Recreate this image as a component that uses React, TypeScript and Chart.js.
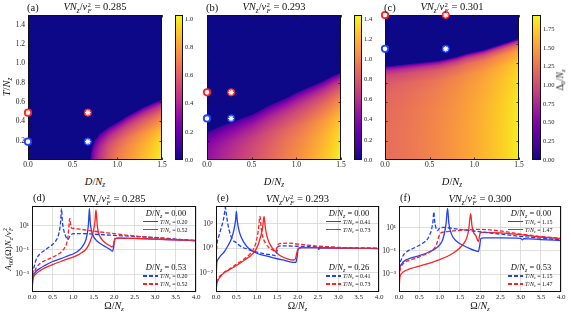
import React, { useEffect, useRef } from "react";
import { Chart, registerables } from "chart.js";

Chart.register(...registerables);

const SERIF = "'Liberation Serif', 'DejaVu Serif', serif";
const BLUE = "#2040ff";
const RED = "#ff2020";

// ---------------- phase-diagram data ----------------
// ordered-phase boundary T_c(D) and zero-temperature gap Delta_0(D), read from the maps
const tcDA = [0, 0.69, 0.72, 0.75, 0.8, 0.9, 1.0, 1.1, 1.2, 1.3, 1.4, 1.5];
const tcA = [0, 0, 0.14, 0.21, 0.27, 0.34, 0.39, 0.45, 0.5, 0.55, 0.59, 0.63];
const gapA = [0, 0, 0.25, 0.35, 0.45, 0.6, 0.7, 0.77, 0.83, 0.89, 0.95, 1.02];

const tcDB = [0, 0.1, 0.2, 0.3, 0.4, 0.5, 0.6, 0.7, 0.8, 0.9, 1.0, 1.1, 1.2, 1.3, 1.4, 1.5];
const tcB = [0.29, 0.33, 0.37, 0.4, 0.44, 0.47, 0.52, 0.57, 0.61, 0.65, 0.7, 0.74, 0.78, 0.82, 0.87, 0.91];
const gapB = [0.45, 0.52, 0.58, 0.64, 0.7, 0.76, 0.82, 0.88, 0.94, 1.0, 1.05, 1.11, 1.18, 1.25, 1.33, 1.43];

const tcDC = [0, 0.1, 0.2, 0.3, 0.4, 0.5, 0.6, 0.7, 0.8, 0.9, 1.0, 1.1, 1.2, 1.3, 1.4, 1.5];
const tcC = [0.97, 0.98, 0.99, 1.0, 1.01, 1.02, 1.03, 1.05, 1.07, 1.1, 1.12, 1.14, 1.17, 1.2, 1.23, 1.26];
const gapC = [1.22, 1.24, 1.26, 1.29, 1.32, 1.35, 1.39, 1.43, 1.47, 1.52, 1.57, 1.62, 1.68, 1.74, 1.81, 1.9];

const shapeT = [0, 0.3, 0.5, 0.7, 0.8, 0.9, 0.95, 0.98, 1.0];
const shapeAB = [1, 0.95, 0.87, 0.71, 0.6, 0.44, 0.31, 0.2, 0];
const shapeC = [1, 1, 0.99, 0.96, 0.92, 0.8, 0.62, 0.4, 0];

const cbarMax = [1.03, 1.44, 1.94];
const cbarTicksA = [0, 0.2, 0.4, 0.6, 0.8, 1.0];
const cbarTicksB = [0, 0.2, 0.4, 0.6, 0.8, 1.0, 1.2, 1.4];
const cbarTicksC = [0, 0.25, 0.5, 0.75, 1.0, 1.25, 1.5, 1.75];
const heatXTicks = [0, 0.5, 1.0, 1.5];
const heatYTicks = [0.2, 0.4, 0.6, 0.8, 1.0, 1.2, 1.4];

// markers on the phase diagrams
const markerCircleD = [0, 0, 0];
const markerStarD = [0.67, 0.27, 0.68];
const markerRedT = [0.49, 0.7, 1.5];
const markerBlueT = [0.19, 0.43, 1.15];

const topCoupling = ["0.285", "0.293", "0.301"];
const bottomCoupling = ["0.285", "0.293", "0.300"];

// ---------------- spectral function data (x: Omega/Nz, value: log10 A) ----------------
const lineXTicks = [0, 0.5, 1, 1.5, 2, 2.5, 3, 3.5, 4];
const logTicksD = [1e-3, 1e-1, 1e1];
const logTicksE = [1e-2, 1, 1e2];
const logTicksF = [1e-3, 1e-1, 1e1];
const yExpRangeD = [-4.46, 2.62];
const yExpRangeE = [-3.56, 3.45];
const yExpRangeF = [-4.52, 2.86];

const dSolidBlueW = [0.002, 0.02, 0.05, 0.1, 0.2, 0.3, 0.5, 0.7, 0.9, 1.0, 1.1, 1.2, 1.27, 1.32, 1.36, 1.38, 1.4, 1.42, 1.45, 1.5, 1.6, 1.7, 1.8, 1.9, 1.96, 1.99, 2.02, 2.1, 2.5, 3.0, 3.5, 4.0];
const dSolidBlueE = [-4.4, -3.3, -3.0, -2.75, -2.5, -2.3, -1.95, -1.72, -1.45, -1.33, -1.15, -0.85, -0.5, -0.1, 0.6, 1.3, 2.4, 1.3, 0.6, 0.1, -0.3, -0.55, -0.75, -0.95, -1.1, -0.8, -0.1, -0.03, -0.05, -0.1, -0.17, -0.23];
const dSolidRedW = [0.002, 0.02, 0.05, 0.1, 0.2, 0.3, 0.5, 0.7, 0.9, 1.1, 1.2, 1.3, 1.38, 1.44, 1.5, 1.535, 1.56, 1.585, 1.61, 1.66, 1.72, 1.8, 1.9, 1.96, 1.99, 2.02, 2.1, 2.5, 3.0, 3.5, 4.0];
const dSolidRedE = [-4.4, -3.4, -3.15, -2.95, -2.7, -2.5, -2.2, -1.95, -1.7, -1.45, -1.25, -1.0, -0.6, -0.1, 0.6, 1.3, 2.3, 1.3, 0.6, 0.1, -0.2, -0.45, -0.65, -0.75, -0.55, -0.1, -0.03, -0.05, -0.1, -0.17, -0.23];
const dDashBlueW = [0.002, 0.02, 0.05, 0.1, 0.2, 0.3, 0.4, 0.5, 0.58, 0.64, 0.68, 0.7, 0.72, 0.74, 0.77, 0.82, 0.87, 0.92, 0.97, 1.0, 1.2, 1.5, 2.0, 2.5, 3.0, 3.5, 4.0];
const dDashBlueE = [-4.0, -2.9, -2.4, -1.8, -1.3, -1.05, -0.8, -0.55, -0.25, 0.15, 0.8, 1.4, 2.4, 1.4, 0.7, 0.15, -0.15, 0.1, 0.3, 0.35, 0.35, 0.3, 0.2, 0.12, 0.03, -0.1, -0.23];
const dDashRedW = [0.002, 0.02, 0.05, 0.1, 0.2, 0.3, 0.5, 0.7, 0.8, 0.85, 0.88, 0.9, 0.92, 0.94, 0.97, 1.0, 1.2, 1.5, 2.0, 2.5, 3.0, 3.5, 4.0];
const dDashRedE = [-4.2, -3.2, -2.9, -2.5, -2.1, -1.9, -1.6, -1.2, -0.8, -0.4, 0.2, 0.9, 1.6, 1.1, 0.8, 0.78, 0.7, 0.55, 0.35, 0.15, 0.0, -0.12, -0.23];

const eSolidBlueW = [0.002, 0.02, 0.05, 0.1, 0.2, 0.3, 0.38, 0.44, 0.48, 0.5, 0.52, 0.56, 0.62, 0.7, 0.8, 1.0, 1.2, 1.5, 1.7, 1.9, 1.96, 1.99, 2.02, 2.1, 2.5, 2.52, 2.55, 3.0, 3.5, 4.0];
const eSolidBlueE = [-2.5, -1.2, -0.9, -0.65, -0.3, 0.25, 0.8, 1.5, 2.3, 3.0, 2.3, 1.5, 0.9, 0.4, 0.0, -0.4, -0.6, -0.85, -1.0, -1.15, -1.15, -0.7, -0.05, 0.05, 0.05, -0.1, 0.03, 0.02, 0.0, -0.02];
const eSolidRedW = [0.002, 0.02, 0.05, 0.1, 0.2, 0.3, 0.5, 0.7, 0.85, 0.95, 1.03, 1.09, 1.14, 1.18, 1.21, 1.25, 1.3, 1.4, 1.5, 1.6, 1.75, 1.9, 1.95, 1.98, 2.02, 2.1, 2.5, 3.0, 3.5, 4.0];
const eSolidRedE = [-3.5, -2.9, -2.6, -2.35, -2.0, -1.8, -1.4, -0.95, -0.6, -0.25, 0.25, 0.9, 1.6, 2.6, 1.7, 1.0, 0.5, -0.05, -0.4, -0.65, -0.85, -0.95, -0.85, -0.4, 0.0, 0.05, 0.05, 0.02, 0.0, -0.02];
const eDashBlueW = [0.002, 0.03, 0.08, 0.13, 0.18, 0.21, 0.23, 0.25, 0.28, 0.32, 0.4, 0.5, 0.6, 0.8, 1.0, 1.2, 1.4, 1.46, 1.49, 1.52, 1.6, 2.0, 2.5, 3.0, 3.5, 4.0];
const eDashBlueE = [-0.6, 0.5, 1.1, 1.7, 2.3, 2.9, 3.35, 2.9, 2.2, 1.5, 0.75, 0.45, 0.18, -0.1, -0.3, -0.45, -0.55, -0.6, -0.3, 0.15, 0.2, 0.17, 0.12, 0.06, 0.02, 0.0];
const eDashRedW = [0.002, 0.02, 0.05, 0.1, 0.2, 0.3, 0.5, 0.7, 0.85, 0.93, 0.99, 1.04, 1.08, 1.11, 1.15, 1.22, 1.3, 1.4, 1.46, 1.49, 1.52, 1.6, 1.8, 2.0, 2.5, 3.0, 3.5, 4.0];
const eDashRedE = [-3.3, -2.8, -2.5, -2.25, -1.95, -1.75, -1.3, -0.85, -0.4, 0.0, 0.6, 1.5, 2.6, 1.6, 0.9, 0.4, 0.05, -0.15, -0.25, 0.0, 0.3, 0.4, 0.42, 0.35, 0.18, 0.08, 0.03, 0.02];

const fSolidBlueW = [0.002, 0.01, 0.05, 0.1, 0.3, 0.5, 0.7, 0.9, 1.0, 1.07, 1.12, 1.16, 1.2, 1.23, 1.27, 1.33, 1.45, 1.6, 1.75, 1.9, 1.96, 1.99, 2.02, 2.1, 2.5, 3.0, 3.05, 3.08, 3.5, 4.0];
const fSolidBlueE = [-4.3, -2.8, -2.2, -1.95, -1.6, -1.4, -1.15, -0.8, -0.5, -0.1, 0.5, 1.3, 2.65, 1.4, 0.7, 0.2, -0.25, -0.55, -0.8, -1.0, -1.05, -0.6, 0.05, 0.12, 0.12, 0.08, -0.05, 0.06, -0.02, -0.1];
const fSolidRedW = [0.002, 0.02, 0.05, 0.1, 0.3, 0.5, 0.8, 1.0, 1.2, 1.35, 1.5, 1.6, 1.67, 1.72, 1.77, 1.8, 1.84, 1.9, 1.96, 2.0, 2.05, 2.5, 3.0, 3.5, 4.0];
const fSolidRedE = [-4.4, -3.3, -3.0, -2.8, -2.5, -2.3, -2.0, -1.75, -1.45, -1.15, -0.75, -0.35, 0.1, 0.8, 2.2, 1.2, 0.6, 0.3, -0.2, 0.5, 0.6, 0.55, 0.4, 0.2, 0.05];
const fDashBlueW = [0.002, 0.01, 0.05, 0.1, 0.2, 0.4, 0.6, 0.7, 0.76, 0.8, 0.84, 0.86, 0.88, 0.91, 0.95, 1.0, 1.1, 1.3, 1.5, 2.0, 2.5, 3.0, 3.5, 4.0];
const fDashBlueE = [-3.5, -2.4, -1.8, -1.4, -1.05, -0.7, -0.3, 0.0, 0.4, 0.8, 1.6, 2.35, 1.6, 1.0, 0.75, 0.95, 1.02, 0.95, 0.85, 0.65, 0.45, 0.25, 0.1, -0.05];
const fDashRedW = [0.002, 0.02, 0.05, 0.1, 0.3, 0.5, 0.7, 0.85, 0.93, 0.98, 1.02, 1.1, 1.3, 1.6, 2.0, 2.5, 3.0, 3.5, 4.0];
const fDashRedE = [-3.8, -2.8, -2.4, -2.1, -1.75, -1.5, -1.2, -0.85, -0.4, 0.2, 0.5, 0.62, 0.7, 0.8, 0.85, 0.72, 0.45, 0.25, 0.1];

const legendDD = ["0.00", "0.53"];
const legendTD = ["0.20", "0.52"];
const legendDE = ["0.00", "0.26"];
const legendTE = ["0.41", "0.73"];
const legendDF = ["0.00", "0.53"];
const legendTF = ["1.15", "1.47"];

// ---------------- colormap ----------------
const PLASMA = ["#0d0887", "#41049d", "#6a00a8", "#8f0da4", "#b12a90", "#cc4778", "#e16462", "#f2844b", "#fca636", "#fcce25", "#f0f921"];
const PLASMA_RGB = PLASMA.map((h) => [parseInt(h.slice(1, 3), 16), parseInt(h.slice(3, 5), 16), parseInt(h.slice(5, 7), 16)]);
function plasma(t: number) {
  const c = Math.max(0, Math.min(1, t)) * 10;
  const i = Math.min(9, Math.floor(c));
  const f = c - i;
  const a = PLASMA_RGB[i], b = PLASMA_RGB[i + 1];
  return [a[0] + (b[0] - a[0]) * f, a[1] + (b[1] - a[1]) * f, a[2] + (b[2] - a[2]) * f];
}
function interp(xs: number[], ys: number[], x: number) {
  const n = xs.length;
  if (x <= xs[0]) return ys[0];
  if (x >= xs[n - 1]) return ys[n - 1];
  let i = 0;
  while (x > xs[i + 1]) i++;
  const f = (x - xs[i]) / (xs[i + 1] - xs[i]);
  return ys[i] + (ys[i + 1] - ys[i]) * f;
}
type Phase = { tcD: number[]; tc: number[]; gap: number[]; shape: number[] };
function gapAt(p: Phase, d: number, t: number) {
  const tc = interp(p.tcD, p.tc, d);
  if (tc <= 0 || t >= tc) return 0;
  return interp(p.tcD, p.gap, d) * interp(shapeT, p.shape, t / tc);
}

function strokeFrame(ctx: CanvasRenderingContext2D, ca: any, color: string) {
  ctx.save();
  ctx.strokeStyle = color;
  ctx.lineWidth = 1;
  ctx.strokeRect(Math.round(ca.left) + 0.5, Math.round(ca.top) + 0.5, Math.round(ca.right - ca.left) - 1, Math.round(ca.bottom - ca.top) - 1);
  ctx.restore();
}

function innerTicks(chart: any, len: number) {
  const ctx = chart.ctx;
  const ca = chart.chartArea;
  ctx.save();
  ctx.strokeStyle = "#111";
  ctx.lineWidth = 0.8;
  ctx.beginPath();
  const xs = chart.scales.x, ys = chart.scales.y;
  if (xs && xs.options.display !== false) {
    xs.ticks.forEach((tk: any) => {
      const px = Math.round(xs.getPixelForValue(tk.value)) + 0.5;
      ctx.moveTo(px, ca.bottom); ctx.lineTo(px, ca.bottom - len);
      ctx.moveTo(px, ca.top); ctx.lineTo(px, ca.top + len);
    });
  }
  ys.ticks.forEach((tk: any) => {
    const py = Math.round(ys.getPixelForValue(tk.value)) + 0.5;
    ctx.moveTo(ca.left, py); ctx.lineTo(ca.left + len, py);
    ctx.moveTo(ca.right, py); ctx.lineTo(ca.right - len, py);
  });
  ctx.stroke();
  ctx.restore();
}

function heatPlugin(p: Phase, vmax: number) {
  return {
    id: "heatmap",
    beforeDatasetsDraw(chart: any) {
      const ca = chart.chartArea;
      const xs = chart.scales.x, ys = chart.scales.y;
      const w = Math.round(ca.right - ca.left), h = Math.round(ca.bottom - ca.top);
      const off = document.createElement("canvas");
      off.width = w;
      off.height = h;
      const octx = off.getContext("2d")!;
      const img = octx.createImageData(w, h);
      for (let j = 0; j < h; j++) {
        const t = ys.getValueForPixel(ca.top + j + 0.5);
        for (let i = 0; i < w; i++) {
          const d = xs.getValueForPixel(ca.left + i + 0.5);
          const c = plasma(gapAt(p, d, t) / vmax);
          const k = (j * w + i) * 4;
          img.data[k] = c[0];
          img.data[k + 1] = c[1];
          img.data[k + 2] = c[2];
          img.data[k + 3] = 255;
        }
      }
      octx.putImageData(img, 0, 0);
      chart.ctx.drawImage(off, ca.left, ca.top);
      innerTicks(chart, 2.5);
      strokeFrame(chart.ctx, ca, "#111");
    },
  };
}

const cbarPlugin = {
  id: "cbar",
  beforeDatasetsDraw(chart: any) {
    const ca = chart.chartArea;
    const ctx = chart.ctx;
    const g = ctx.createLinearGradient(0, ca.bottom, 0, ca.top);
    PLASMA.forEach((c, i) => g.addColorStop(i / (PLASMA.length - 1), c));
    ctx.save();
    ctx.fillStyle = g;
    ctx.fillRect(ca.left, ca.top, ca.right - ca.left, ca.bottom - ca.top);
    ctx.restore();
    strokeFrame(ctx, ca, "#111");
  },
};

const lineFramePlugin = {
  id: "lineFrame",
  afterDatasetsDraw(chart: any) {
    strokeFrame(chart.ctx, chart.chartArea, "#111");
  },
};

function axisFix(size: number, horizontal: boolean) {
  return (scale: any) => {
    if (horizontal) scale.height = size;
    else scale.width = size;
    scale.paddingLeft = 0;
    scale.paddingRight = 0;
    scale.paddingTop = 0;
    scale.paddingBottom = 0;
  };
}

type Frame = { left: number; top: number; width: number; height: number; ml: number; mt: number; mr: number; mb: number };

function ChartCanvas({ frame, build }: { frame: Frame; build: (f: Frame) => any }) {
  const ref = useRef<HTMLCanvasElement>(null);
  useEffect(() => {
    const chart = new Chart(ref.current!, build(frame));
    return () => chart.destroy();
  }, []);
  const w = frame.width + frame.ml + frame.mr;
  const h = frame.height + frame.mt + frame.mb;
  return (
    <canvas
      ref={ref}
      width={w}
      height={h}
      style={{ position: "absolute", left: frame.left - frame.ml, top: frame.top - frame.mt, width: w, height: h }}
    />
  );
}

const tickFont = (size: number) => ({ family: SERIF, size });

function heatConfig(f: Frame, phase: Phase, idx: number, showY: boolean) {
  const pt = (d: number, t: number) => [{ x: d, y: t }];
  return {
    type: "scatter",
    data: {
      datasets: [
        { data: [...pt(markerStarD[idx], markerRedT[idx]), ...pt(markerStarD[idx], markerBlueT[idx])], pointStyle: "star", pointRadius: 2.8, borderColor: "#fff", backgroundColor: "#fff", pointBorderWidth: 1.1, clip: false },
        { data: pt(markerStarD[idx], markerRedT[idx]), pointStyle: "circle", pointRadius: 3.6, backgroundColor: RED, borderColor: RED, pointBorderWidth: 1, clip: false },
        { data: pt(markerStarD[idx], markerBlueT[idx]), pointStyle: "circle", pointRadius: 3.6, backgroundColor: BLUE, borderColor: BLUE, pointBorderWidth: 1, clip: false },
        { data: pt(markerCircleD[idx], markerRedT[idx]), pointStyle: "circle", pointRadius: 3.2, backgroundColor: "#fff", borderColor: RED, pointBorderWidth: 1.8, clip: false },
        { data: pt(markerCircleD[idx], markerBlueT[idx]), pointStyle: "circle", pointRadius: 3.2, backgroundColor: "#fff", borderColor: BLUE, pointBorderWidth: 1.8, clip: false },
      ],
    },
    options: {
      responsive: false,
      animation: false,
      events: [],
      layout: { padding: { left: 0, top: f.mt, right: f.mr, bottom: 0 } },
      plugins: { legend: { display: false }, tooltip: { enabled: false } },
      scales: {
        x: {
          type: "linear", min: 0, max: 1.5,
          afterBuildTicks: (s: any) => { s.ticks = heatXTicks.map((v) => ({ value: v })); },
          ticks: { callback: (v: any) => Number(v).toFixed(1), font: tickFont(7.5), color: "#222", padding: 1, maxRotation: 0 },
          grid: { display: false, drawTicks: false },
          border: { display: false },
          afterFit: axisFix(f.mb, true),
        },
        y: {
          type: "linear", min: 0, max: 1.5,
          afterBuildTicks: (s: any) => { s.ticks = heatYTicks.map((v) => ({ value: v })); },
          ticks: { display: showY, callback: (v: any) => Number(v).toFixed(1), font: tickFont(7.5), color: "#222", padding: 3 },
          grid: { display: false, drawTicks: false },
          border: { display: false },
          afterFit: axisFix(f.ml, false),
        },
      },
    },
    plugins: [heatPlugin(phase, cbarMax[idx])],
  };
}

function cbarConfig(f: Frame, idx: number, ticks: number[], digits: number) {
  return {
    type: "scatter",
    data: { datasets: [] },
    options: {
      responsive: false,
      animation: false,
      events: [],
      layout: { padding: { left: 0, top: f.mt, right: 0, bottom: f.mb } },
      plugins: { legend: { display: false }, tooltip: { enabled: false } },
      scales: {
        x: { type: "linear", display: false, min: 0, max: 1 },
        y: {
          type: "linear", position: "right", min: 0, max: cbarMax[idx],
          afterBuildTicks: (s: any) => { s.ticks = ticks.map((v) => ({ value: v })); },
          ticks: { callback: (v: any) => Number(v).toFixed(digits), font: tickFont(6.5), color: "#222", padding: 2 },
          grid: { display: false, drawTicks: false },
          border: { display: false },
          afterFit: axisFix(f.mr, false),
        },
      },
    },
    plugins: [cbarPlugin],
  };
}

const SUP: Record<string, string> = { "-": "\u207B", "0": "\u2070", "1": "\u00B9", "2": "\u00B2", "3": "\u00B3", "4": "\u2074" };
const logLabel = (v: number) =>
  "10" + String(Math.round(Math.log10(v))).split("").map((c) => SUP[c]).join("");

type Series = { w: number[]; e: number[]; color: string; dash: boolean };

function lineConfig(f: Frame, series: Series[], yRange: number[], logTicks: number[]) {
  return {
    type: "line",
    data: {
      datasets: series.map((s) => ({
        data: s.w.map((w, i) => ({ x: w, y: Math.pow(10, s.e[i]) })),
        borderColor: s.color,
        borderDash: s.dash ? [4, 2] : [],
        borderWidth: 1.3,
        pointRadius: 0,
        fill: false,
        cubicInterpolationMode: "monotone",
      })),
    },
    options: {
      responsive: false,
      animation: false,
      events: [],
      layout: { padding: { left: 0, top: f.mt, right: f.mr, bottom: 0 } },
      plugins: { legend: { display: false }, tooltip: { enabled: false } },
      scales: {
        x: {
          type: "linear", min: 0, max: 4,
          afterBuildTicks: (s: any) => { s.ticks = lineXTicks.map((v) => ({ value: v })); },
          ticks: { callback: (v: any) => Number(v).toFixed(1), font: tickFont(7), color: "#222", padding: 1, maxRotation: 0 },
          grid: { color: "#d6d6d6", lineWidth: 0.8, drawTicks: false },
          border: { display: false },
          afterFit: axisFix(f.mb, true),
        },
        y: {
          type: "logarithmic", min: Math.pow(10, yRange[0]), max: Math.pow(10, yRange[1]),
          afterBuildTicks: (s: any) => { s.ticks = logTicks.map((v) => ({ value: v })); },
          ticks: { callback: (v: any) => logLabel(Number(v)), font: tickFont(7.5), color: "#222", padding: 3 },
          grid: { color: "#d6d6d6", lineWidth: 0.8, drawTicks: false },
          border: { display: false },
          afterFit: axisFix(f.ml, false),
        },
      },
    },
    plugins: [lineFramePlugin],
  };
}

// ---------------- text helpers ----------------
const Sub = ({ children, it }: { children: any; it?: boolean }) => (
  <span style={{ fontSize: "0.7em", verticalAlign: "-0.35em", fontStyle: it ? "italic" : "normal", lineHeight: 0 }}>{children}</span>
);
const SupSub = ({ sup, sub }: { sup: string; sub: string }) => (
  <span style={{ display: "inline-flex", flexDirection: "column", fontSize: "0.65em", lineHeight: 0.95, verticalAlign: "0.55em", marginLeft: "0.05em" }}>
    <span>{sup}</span>
    <span style={{ fontStyle: "italic" }}>{sub}</span>
  </span>
);
const Coupling = ({ v }: { v: string }) => (
  <>
    <i>VN</i><Sub it>z</Sub>/<i>v</i><SupSub sup="2" sub="F" /> = {v}
  </>
);
const OverNz = ({ sym, it = true }: { sym: string; it?: boolean }) => (
  <>
    {it ? <i>{sym}</i> : sym}/<i>N</i><Sub it>z</Sub>
  </>
);

function Label({ x, y, size, rot, left, children }: any) {
  const transform = rot ? "translate(-50%,-50%) rotate(-90deg)" : left ? "translate(0,-50%)" : "translate(-50%,-50%)";
  return (
    <div style={{ position: "absolute", left: x, top: y, transform, fontSize: size, fontFamily: SERIF, lineHeight: 1, whiteSpace: "nowrap", color: "#111" }}>
      {children}
    </div>
  );
}

function Sample({ x, y, color, dashed }: { x: number; y: number; color: string; dashed: boolean }) {
  return (
    <div
      style={{
        position: "absolute", left: x, top: y - 0.65, width: 15, height: 1.3,
        background: dashed ? `repeating-linear-gradient(90deg, ${color} 0px, ${color} 4px, transparent 4px, transparent 6px)` : color,
      }}
    />
  );
}

function LineLegend({ R, T, dVals, tVals }: { R: number; T: number; dVals: string[]; tVals: string[] }) {
  const entry = (y: number, color: string, dashed: boolean, tv: string) => (
    <>
      <Sample x={R - 53} y={y} color={color} dashed={dashed} />
      <Label x={R - 36} y={y} size={6} left>
        <OverNz sym="T" /> = {tv}
      </Label>
    </>
  );
  return (
    <>
      <Label x={R - 30} y={T + 7} size={8.5}><OverNz sym="D" /> = {dVals[0]}</Label>
      {entry(T + 15.5, BLUE, false, tVals[0])}
      {entry(T + 23.5, RED, false, tVals[1])}
      <Label x={R - 30} y={T + 60.5} size={8.5}><OverNz sym="D" /> = {dVals[1]}</Label>
      {entry(T + 70, BLUE, true, tVals[0])}
      {entry(T + 78, RED, true, tVals[1])}
    </>
  );
}

// ---------------- layout frames ----------------
const HT = 15, HH = 145;
const heatFrames: Frame[] = [
  { left: 28, top: HT, width: 134, height: HH, ml: 28, mt: 15, mr: 8, mb: 14 },
  { left: 207, top: HT, width: 134, height: HH, ml: 10, mt: 15, mr: 8, mb: 14 },
  { left: 385, top: HT, width: 134, height: HH, ml: 10, mt: 15, mr: 8, mb: 14 },
];
const cbarFrames: Frame[] = [
  { left: 175, top: HT, width: 8, height: HH, ml: 0, mt: 15, mr: 20, mb: 14 },
  { left: 354, top: HT, width: 8, height: HH, ml: 0, mt: 15, mr: 20, mb: 14 },
  { left: 532, top: HT, width: 9, height: HH, ml: 0, mt: 15, mr: 22, mb: 14 },
];
const LT = 206, LH = 86;
const lineFrames: Frame[] = [
  { left: 32, top: LT, width: 164, height: LH, ml: 32, mt: 11, mr: 6, mb: 14 },
  { left: 216, top: LT, width: 163, height: LH, ml: 18, mt: 11, mr: 6, mb: 14 },
  { left: 399, top: LT, width: 162, height: LH, ml: 18, mt: 11, mr: 6, mb: 14 },
];

const phases: Phase[] = [
  { tcD: tcDA, tc: tcA, gap: gapA, shape: shapeAB },
  { tcD: tcDB, tc: tcB, gap: gapB, shape: shapeAB },
  { tcD: tcDC, tc: tcC, gap: gapC, shape: shapeC },
];

const seriesD: Series[] = [
  { w: dDashRedW, e: dDashRedE, color: RED, dash: true },
  { w: dDashBlueW, e: dDashBlueE, color: BLUE, dash: true },
  { w: dSolidRedW, e: dSolidRedE, color: RED, dash: false },
  { w: dSolidBlueW, e: dSolidBlueE, color: BLUE, dash: false },
];
const seriesE: Series[] = [
  { w: eDashRedW, e: eDashRedE, color: RED, dash: true },
  { w: eDashBlueW, e: eDashBlueE, color: BLUE, dash: true },
  { w: eSolidRedW, e: eSolidRedE, color: RED, dash: false },
  { w: eSolidBlueW, e: eSolidBlueE, color: BLUE, dash: false },
];
const seriesF: Series[] = [
  { w: fDashRedW, e: fDashRedE, color: RED, dash: true },
  { w: fDashBlueW, e: fDashBlueE, color: BLUE, dash: true },
  { w: fSolidRedW, e: fSolidRedE, color: RED, dash: false },
  { w: fSolidBlueW, e: fSolidBlueE, color: BLUE, dash: false },
];

export default function App() {
  const panelTop = ["(a)", "(b)", "(c)"];
  const panelBot = ["(d)", "(e)", "(f)"];
  return (
    <div style={{ position: "absolute", left: 0, top: 0, width: 571, height: 322, background: "#fff", overflow: "hidden", fontFamily: SERIF }}>
      {heatFrames.map((f, i) => (
        <ChartCanvas key={"h" + i} frame={f} build={(fr) => heatConfig(fr, phases[i], i, i === 0)} />
      ))}
      <ChartCanvas frame={cbarFrames[0]} build={(fr) => cbarConfig(fr, 0, cbarTicksA, 1)} />
      <ChartCanvas frame={cbarFrames[1]} build={(fr) => cbarConfig(fr, 1, cbarTicksB, 1)} />
      <ChartCanvas frame={cbarFrames[2]} build={(fr) => cbarConfig(fr, 2, cbarTicksC, 2)} />
      <ChartCanvas frame={lineFrames[0]} build={(fr) => lineConfig(fr, seriesD, yExpRangeD, logTicksD)} />
      <ChartCanvas frame={lineFrames[1]} build={(fr) => lineConfig(fr, seriesE, yExpRangeE, logTicksE)} />
      <ChartCanvas frame={lineFrames[2]} build={(fr) => lineConfig(fr, seriesF, yExpRangeF, logTicksF)} />

      {heatFrames.map((f, i) => (
        <React.Fragment key={"ht" + i}>
          <Label x={f.left - 1} y={8} size={10.5} left>{panelTop[i]}</Label>
          <Label x={f.left + f.width / 2} y={8} size={10.5}><Coupling v={topCoupling[i]} /></Label>
          <Label x={f.left + f.width / 2} y={182} size={10.5}><OverNz sym="D" /></Label>
        </React.Fragment>
      ))}
      <Label x={7} y={87} size={10.5} rot><OverNz sym="T" /></Label>
      <Label x={561} y={80} size={9.5} rot>
        {"\u0394"}<Sub>0</Sub>/<i>N</i><Sub it>z</Sub>
      </Label>

      {lineFrames.map((f, i) => (
        <React.Fragment key={"lt" + i}>
          <Label x={f.left + 1} y={198} size={10.5} left>{panelBot[i]}</Label>
          <Label x={f.left + f.width / 2} y={200} size={10.5}><Coupling v={bottomCoupling[i]} /></Label>
          <Label x={f.left + f.width / 2} y={306} size={10}><OverNz sym={"\u03A9"} it={false} /></Label>
        </React.Fragment>
      ))}
      <Label x={9} y={249} size={9} rot>
        <i>A</i><Sub>00</Sub>({"\u03A9"})<i>N</i><Sub it>z</Sub>/<i>v</i><SupSub sup="2" sub="F" />
      </Label>

      <LineLegend R={196} T={LT} dVals={legendDD} tVals={legendTD} />
      <LineLegend R={379} T={LT} dVals={legendDE} tVals={legendTE} />
      <LineLegend R={561} T={LT} dVals={legendDF} tVals={legendTF} />
    </div>
  );
}
